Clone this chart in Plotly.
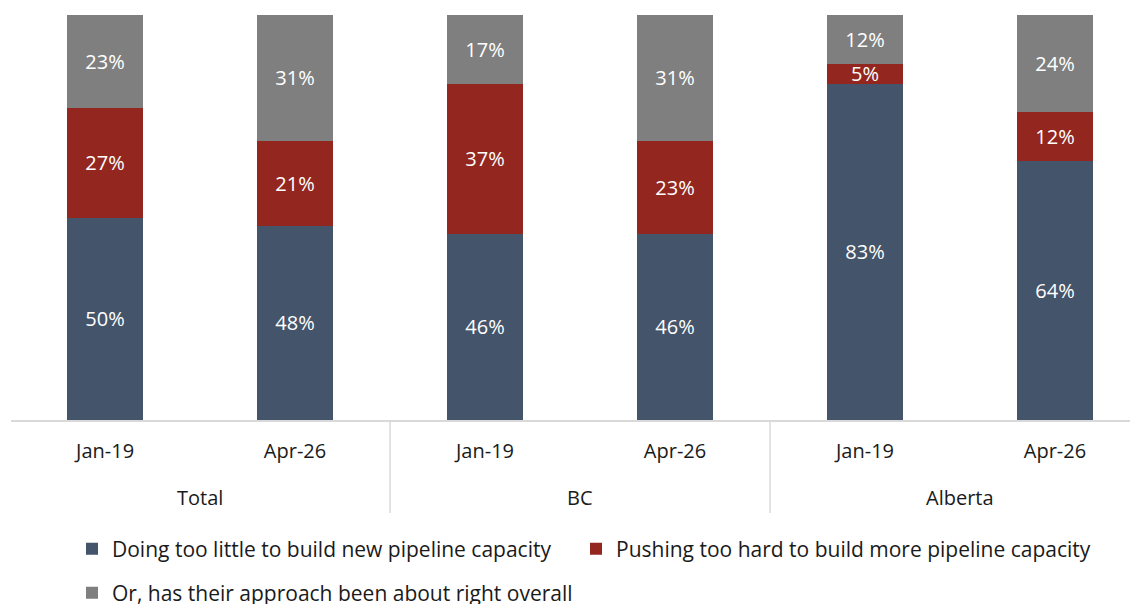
import plotly.graph_objects as go

groups = ["Total", "BC", "Alberta"]
periods = ["Jan-19", "Apr-26", "Jan-19", "Apr-26", "Jan-19", "Apr-26"]
too_little = [50, 48, 46, 46, 83, 64]
too_hard = [27, 21, 37, 23, 5, 12]
about_right = [23, 31, 17, 31, 12, 24]
series_names = [
    "Doing too little to build new pipeline capacity",
    "Pushing too hard to build more pipeline capacity",
    "Or, has their approach been about right overall",
]
colors = ["#44546A", "#932720", "#7F7F7F"]
legend_ids = ["legend", "legend3", "legend2"]

FONT = "Open Sans"
TXT = "#1a1a1a"
FS = 20
LFS = 21
x = list(range(len(periods)))

fig = go.Figure()
for vals, name, col, lg in zip([too_little, too_hard, about_right], series_names, colors, legend_ids):
    fig.add_trace(go.Bar(
        x=x, y=vals, name=name, marker=dict(color=col, line=dict(width=0)),
        width=0.4,
        text=[f"{v}%" for v in vals], textposition="inside", insidetextanchor="middle",
        textfont=dict(color="white", size=FS, family=FONT),
        legend=lg,
        hoverinfo="skip",
    ))

OFF = 8  # page offset of the figure
H_PLOT = 405.0
def py(pix):
    return (420 - pix) / H_PLOT

for gi, g in enumerate(groups):
    fig.add_annotation(x=gi * 2 + 0.5, xref="x", y=py(497), yref="paper", text=g,
                       showarrow=False, yanchor="middle",
                       font=dict(size=FS, family=FONT, color=TXT))
for xv in [-0.5, 1.5, 3.5, 5.5]:
    fig.add_shape(type="line", xref="x", yref="paper", x0=xv, x1=xv, y0=0, y1=py(513),
                  line=dict(color="#d9d9d9", width=1.5))

def leg(xpix, ypix):
    return dict(orientation="h", xref="container", yref="container",
                x=xpix / 1138, y=1 - (ypix - OFF) / 604, yanchor="middle", xanchor="left",
                font=dict(size=LFS, family=FONT, color=TXT))

fig.update_layout(
    barmode="stack",
    width=1138, height=604,
    margin=dict(l=11 - OFF, r=0, t=15 - OFF, b=604 - (420 - OFF)),
    plot_bgcolor="white", paper_bgcolor="white",
    font=dict(family=FONT, size=FS, color=TXT),
    uniformtext=dict(minsize=FS, mode="show"),
    xaxis=dict(range=[-0.495, 5.479], tickvals=x, ticktext=periods,
               ticks="outside", ticklen=12, tickcolor="rgba(0,0,0,0)",
               showline=True, linecolor="#d9d9d9", linewidth=1.5,
               showgrid=False, zeroline=False,
               tickfont=dict(size=FS, family=FONT, color=TXT)),
    yaxis=dict(range=[0, 100], visible=False),
    legend=leg(64, 549),
    legend3=leg(568, 549),
    legend2=leg(64, 593),
    showlegend=True,
)

fig.write_html("out.html")
